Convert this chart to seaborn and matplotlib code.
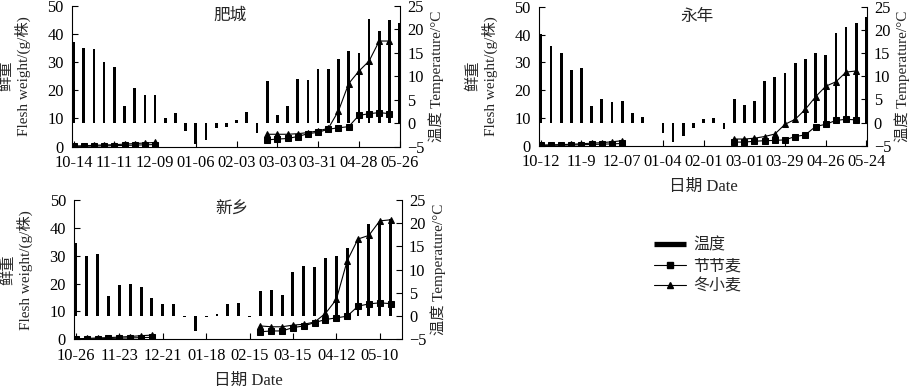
import numpy as np
import pandas as pd
import matplotlib
matplotlib.use('Agg')
import matplotlib.pyplot as plt
from matplotlib.lines import Line2D
import seaborn as sns

nan = np.nan

# weekly mean temperature (degC, right axis) and fresh weight (g/plant, left axis)
# nan = not sampled that week

# 肥城
fc_ticks = ['10-14', '11-11', '12-09', '01-06', '02-03', '03-03', '03-31', '04-28', '05-26']
fc_temp = [17.3, 16.1, 15.9, 13.0, 11.9, 3.7, 7.6, 6.0, 6.0, 1.1, 2.1, -1.6, -4.4, -3.6, -1.1, -0.9, 0.7,
           2.4, -2.0, 9.0, 1.8, 3.6, 9.4, 9.3, 11.6, 11.6, 13.7, 15.4, 15.0, 22.1, 19.6, 22.0, 21.4]
fc_jjm = [0.1, 0.15, 0.2, 0.3, 0.35, 0.45, 0.55, 0.65, 0.75,
          nan, nan, nan, nan, nan, nan, nan, nan, nan, nan,
          2.4, 2.7, 2.9, 3.6, 4.6, 5.1, 6.2, 6.7, 7.1, 11.1, 11.7, 12.1, 11.7, nan]
fc_dxm = [0.2, 0.3, 0.5, 0.6, 0.7, 0.9, 1.1, 1.3, 1.5,
          nan, nan, nan, nan, nan, nan, nan, nan, nan, nan,
          4.4, 4.4, 4.4, 4.6, 5.0, 5.6, 6.5, 12.7, 22.4, 26.8, 30.4, 37.5, 37.5, nan]

# 永年
yn_ticks = ['10-12', '11-9', '12-07', '01-04', '02-01', '03-01', '03-29', '04-26', '05-24']
yn_temp = [19.2, 16.6, 15.1, 11.3, 11.7, 3.6, 5.1, 4.4, 4.6, 2.0, 1.1, 0.0, -2.3, -4.3, -2.8, -1.1, 0.7,
           0.9, -1.4, 5.0, 3.8, 4.7, 9.0, 9.9, 10.6, 12.9, 13.8, 15.1, 14.6, 19.3, 20.6, 21.6, 22.9]
yn_jjm = [0.1, 0.15, 0.2, 0.25, 0.35, 0.45, 0.55, 0.65, 0.8,
          nan, nan, nan, nan, nan, nan, nan, nan, nan, nan,
          1.3, 1.3, 1.6, 1.8, 1.9, 2.1, 3.3, 3.9, 6.9, 7.7, 9.1, 9.5, 9.3, nan]
yn_dxm = [0.2, 0.3, 0.4, 0.5, 0.7, 0.9, 1.1, 1.4, 1.8,
          nan, nan, nan, nan, nan, nan, nan, nan, nan, nan,
          2.4, 2.4, 2.7, 3.3, 4.2, 7.7, 9.5, 13.1, 17.6, 21.4, 23.0, 26.5, 26.9, nan]

# 新乡
xx_ticks = ['10-26', '11-23', '12-21', '01-18', '02-15', '03-15', '04-12', '05-10']
xx_temp = [15.8, 12.9, 13.4, 4.4, 6.8, 7.0, 6.2, 4.0, 2.6, 2.6, -0.3, -3.2, -0.3, 0.5, 2.6, 2.8,
           -0.3, 5.5, 5.7, 4.5, 9.4, 10.8, 10.5, 12.6, 12.9, 14.7, 16.2, 19.8, 20.2, 21.0, nan]
xx_jjm = [0.1, 0.15, 0.2, 0.3, 0.4, 0.5, 0.6, 0.7,
          nan, nan, nan, nan, nan, nan, nan, nan, nan,
          2.7, 3.0, 3.0, 4.2, 4.8, 6.0, 7.1, 7.7, 8.3, 11.9, 12.7, 13.1, 12.8, nan]
xx_dxm = [0.2, 0.3, 0.5, 0.6, 0.8, 1.0, 1.3, 1.5,
          nan, nan, nan, nan, nan, nan, nan, nan, nan,
          4.8, 4.5, 4.5, 5.1, 5.4, 6.2, 9.3, 14.3, 28.2, 36.0, 37.3, 42.5, 42.9, nan]

species = ['节节麦', '冬小麦']

sns.set_style('ticks')
plt.rcParams['font.family'] = ['Liberation Serif', 'Noto Sans CJK SC']
plt.rcParams['font.size'] = 11
plt.rcParams['axes.edgecolor'] = 'k'
plt.rcParams['axes.linewidth'] = 0.8

TICK_FS = 11.8


def draw(ax, title, ticks, temp, jjm, dxm, xlabel=False, xlab_x=0.5):
    n = len(temp)
    weeks = np.arange(n)
    ax2 = ax.twinx()

    bars = pd.DataFrame({'week': weeks, 'temp': temp}).dropna()
    sns.barplot(data=bars, x='week', y='temp', native_scale=True, color='k', saturation=1,
                width=0.27, linewidth=0, errorbar=None, ax=ax2)

    w = pd.DataFrame({'week': np.r_[weeks, weeks],
                      'weight': np.r_[jjm, dxm],
                      'species': [species[0]] * n + [species[1]] * n})
    w['season'] = w.groupby('species')['weight'].transform(lambda s: s.isna().cumsum())
    w = w.dropna()
    sns.lineplot(data=w, x='week', y='weight', style='species', units='season', estimator=None,
                 markers={species[0]: 's', species[1]: '^'}, dashes=False, color='k',
                 lw=0.8, ms=5, mec='k', legend=False, ax=ax)

    ax.set_zorder(ax2.get_zorder() + 1)
    ax.patch.set_visible(False)

    ax.set_ylim(0, 50)
    ax.set_yticks(range(0, 51, 10))
    ax2.set_ylim(-5, 25)
    ax2.set_yticks(range(-5, 26, 5))
    ax.set_xlim(-0.15, n - 1 + 0.05)
    ax.set_xticks(weeks[::4])
    ax.set_xticklabels(ticks)

    for s in ['top', 'right']:
        ax.spines[s].set_visible(False)
    for s in ['top', 'left', 'bottom']:
        ax2.spines[s].set_visible(False)
    ax2.spines['right'].set_linewidth(0.8)

    ax.tick_params(direction='in', length=4, width=0.8, colors='k', labelsize=TICK_FS)
    ax.tick_params(axis='y', pad=6)
    ax.tick_params(axis='x', pad=6)
    ax2.tick_params(direction='in', length=4, width=0.8, colors='k', labelsize=TICK_FS, pad=5)

    ax.set_ylabel('鲜重\nFlesh weight/(g/株)', fontsize=11, linespacing=1.1)
    ax.yaxis.set_label_coords(-0.125, 0.5)
    ax2.set_ylabel('温度 Temperature/°C', fontsize=11)
    ax2.yaxis.set_label_coords(1.085, 0.5)
    if xlabel:
        ax.set_xlabel('日期 Date', fontsize=12)
        ax.xaxis.set_label_coords(xlab_x, -0.24)
    else:
        ax.set_xlabel('')
    ax.text(0.48, 0.93, title, transform=ax.transAxes, ha='center', va='center', fontsize=12)


fig = plt.figure(figsize=(9.14, 3.88), dpi=100)
ax_fc = fig.add_axes([0.0788, 0.622, 0.359, 0.363])
ax_yn = fig.add_axes([0.590, 0.6245, 0.3585, 0.358])
ax_xx = fig.add_axes([0.0813, 0.1255, 0.3585, 0.359])

draw(ax_fc, '肥城', fc_ticks, fc_temp, fc_jjm, fc_dxm)
draw(ax_yn, '永年', yn_ticks, yn_temp, yn_jjm, yn_dxm, xlabel=True)
draw(ax_xx, '新乡', xx_ticks, xx_temp, xx_jjm, xx_dxm, xlabel=True, xlab_x=0.53)

handles = [Line2D([0], [0], color='k', lw=3.8, solid_capstyle='butt'),
           Line2D([0], [0], color='k', lw=0.8, marker='s', ms=4.5),
           Line2D([0], [0], color='k', lw=0.8, marker='^', ms=4.5)]
fig.legend(handles, ['温度'] + species, loc='upper left', bbox_to_anchor=(0.716, 0.387),
           frameon=False, fontsize=11.5, handlelength=2.0, handletextpad=0.45,
           labelspacing=0.28, borderpad=0, borderaxespad=0)

fig.savefig('out.png', dpi=100)
